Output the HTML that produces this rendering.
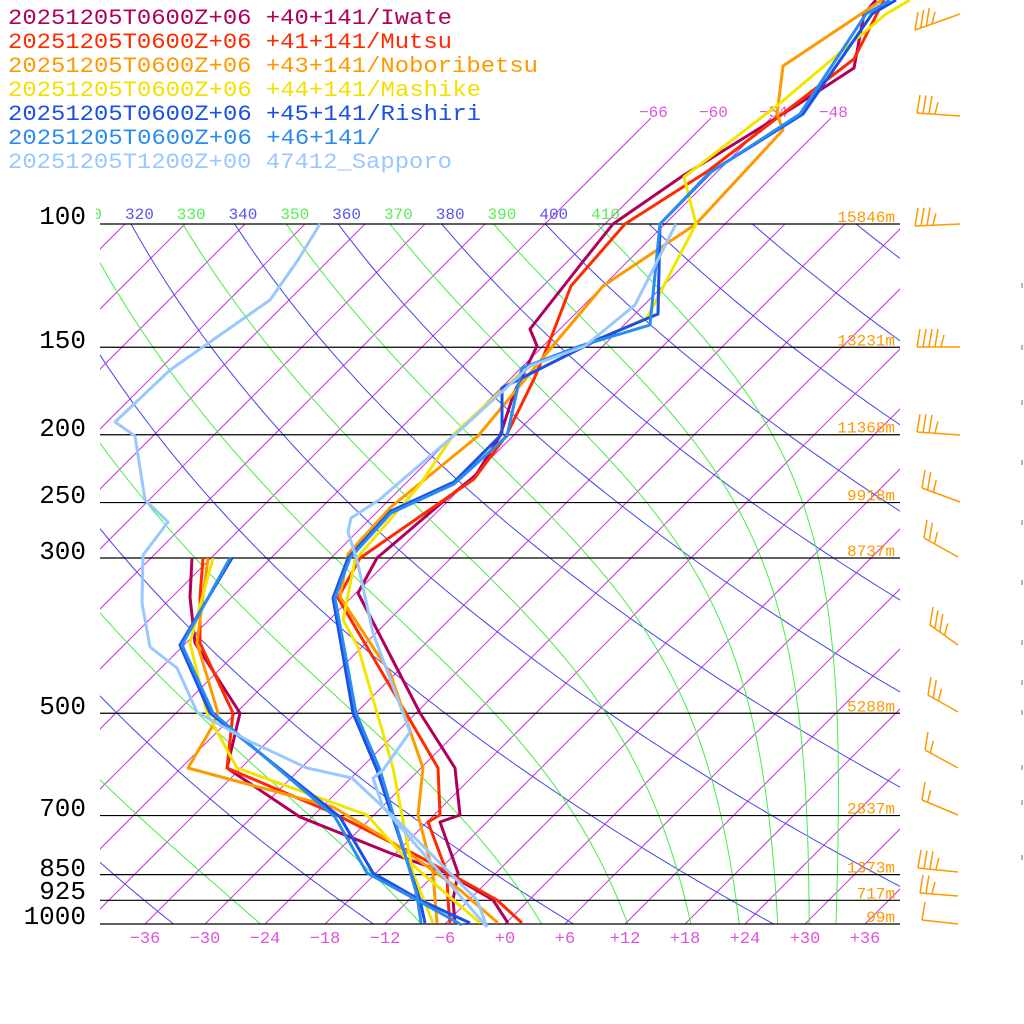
<!DOCTYPE html>
<html><head><meta charset="utf-8"><style>
html,body{margin:0;padding:0;background:#fff;width:1024px;height:1024px;overflow:hidden}
svg{display:block}
text{font-family:"Liberation Mono","DejaVu Sans Mono",monospace}
</style></head><body>
<svg id="s" width="1024" height="1024" viewBox="0 0 1024 1024" xmlns="http://www.w3.org/2000/svg">
<defs>
<clipPath id="pc"><rect x="100" y="224" width="800" height="700"/></clipPath>
<clipPath id="lc"><rect x="96" y="195" width="530" height="30"/></clipPath>
</defs>
<g id="grid" clip-path="url(#pc)"></g>
<g id="top"></g>
<g id="hl" stroke="#000" stroke-width="1.2"></g>
<g id="lab"></g>
<g id="ser" fill="none" stroke-width="3" stroke-linejoin="round"></g>
<g id="barb" fill="none" stroke="#ff9900" stroke-width="1.5"></g>
<g font-size="22">
<text x="8" y="24" fill="#b0005c" textLength="444" lengthAdjust="spacingAndGlyphs">20251205T0600Z+06 +40+141/Iwate</text>
<text x="8" y="48" fill="#ff2a00" textLength="444" lengthAdjust="spacingAndGlyphs">20251205T0600Z+06 +41+141/Mutsu</text>
<text x="8" y="72" fill="#ff9900" textLength="530" lengthAdjust="spacingAndGlyphs">20251205T0600Z+06 +43+141/Noboribetsu</text>
<text x="8" y="96" fill="#f2e000" textLength="473" lengthAdjust="spacingAndGlyphs">20251205T0600Z+06 +44+141/Mashike</text>
<text x="8" y="120" fill="#1a4fe8" textLength="473" lengthAdjust="spacingAndGlyphs">20251205T0600Z+06 +45+141/Rishiri</text>
<text x="8" y="144" fill="#2a8cf0" textLength="373" lengthAdjust="spacingAndGlyphs">20251205T0600Z+06 +46+141/</text>
<text x="8" y="168" fill="#99c8ff" textLength="444" lengthAdjust="spacingAndGlyphs">20251205T1200Z+00 47412_Sapporo</text>
</g>
</svg>
<script>
var NS="http://www.w3.org/2000/svg";
function el(p,t,a,txt){var e=document.createElementNS(NS,t);for(var k in a)e.setAttribute(k,a[k]);if(txt!==undefined)e.textContent=txt;document.getElementById(p).appendChild(e);return e;}
function Y(p){return 924-304*Math.log(1000/p);}
function X(T,y){return 505+10*T+(924-y);}
for(var T=-150;T<=60;T+=6){var y1=924,y2=224;el("grid","line",{x1:X(T,y1),y1:y1,x2:X(T,y2),y2:y2,stroke:"#cc33dd","stroke-width":1});}
[-66,-60,-54,-48].forEach(function(T){var y2=118;el("top","line",{x1:X(T,224),y1:224,x2:X(T,y2),y2:y2,stroke:"#cc33dd","stroke-width":1});
el("lab","text",{x:X(T,y2)-12,y:117,fill:"#dd55dd","font-size":16},(""+T).replace("-","−"));});
for(var th=200;th<=460;th+=20){var pts=[];for(var p=1000;p>=99;p-=5){var y=Y(p);var Tc=th*Math.pow(p/1000,0.2857)-273.15;pts.push(X(Tc,y).toFixed(1)+","+y.toFixed(1));}
el("grid","polyline",{points:pts.join(" "),fill:"none",stroke:"#4444ee","stroke-width":1});
var xl=X(th*Math.pow(0.1,0.2857)-273.15,224);el("lab","text",{x:xl-6,y:219,fill:"#5555ee","font-size":16,"clip-path":"url(#lc)"},""+th);}
function es(Tc){return 6.112*Math.exp(17.67*Tc/(Tc+243.5));}
for(var th=210;th<=410;th+=20){var Tk=th*Math.pow(0.1,0.2857);var pts=[];var lp=Math.log(100);var N=600;var d=(Math.log(1000)-lp)/N;
for(var i=0;i<=N;i++){var p=Math.exp(lp);var y=Y(p);pts.push(X(Tk-273.15,y).toFixed(1)+","+y.toFixed(1));
var e=es(Tk-273.15);var rs=0.622*e/(p-e);var dT=(287*Tk+2.5e6*rs)/(1004+2.5e6*2.5e6*rs*0.622/(287*Tk*Tk));Tk+=dT*d;lp+=d;}
el("grid","polyline",{points:pts.join(" "),fill:"none",stroke:"#44ee44","stroke-width":1});
var xl=X(th*Math.pow(0.1,0.2857)-273.15,224);el("lab","text",{x:xl-6,y:219,fill:"#55ee55","font-size":16,"clip-path":"url(#lc)"},""+th);}
var lv=[[100,224,"15846m"],[150,348,"13231m"],[200,436,"11368m"],[250,503,"9918m"],[300,559,"8737m"],[500,714,"5288m"],[700,816,"2837m"],[850,876,"1373m"],[925,899,"717m"],[1000,924,"99m"]];
lv.forEach(function(l){var y=Y(l[0]);el("hl","line",{x1:100,y1:y,x2:900,y2:y});
el("lab","text",{x:86,y:l[1],"text-anchor":"end","font-size":26,fill:"#000"},""+l[0]);
el("lab","text",{x:895,y:y-2,"text-anchor":"end","font-size":16,fill:"#ff9900"},l[2]);});
for(var T=-36;T<=36;T+=6){var s=T<0?"−"+(-T):"+"+T;el("lab","text",{x:505+10*T,y:943,"text-anchor":"middle","font-size":17,fill:"#dd55dd"},s);}
var S=[
["#b0005c",[[876,0],[864,14],[854,68],[794,107],[684,175],[613,224],[581,264],[530,329],[537,346],[514,393],[500,436],[476,475],[445,500],[377,558],[358,593],[420,713],[455,768],[460,815],[440,822],[458,873],[453,900],[455,923]]],
["#b0005c",[[192,558],[190,597],[195,643],[240,713],[227,768],[300,817],[390,853],[447,873],[493,900],[508,923]]],
["#ff2a00",[[884,0],[854,59],[708,171],[625,224],[571,286],[549,343],[534,379],[506,436],[474,479],[360,558],[338,598],[367,647],[410,720],[438,768],[440,815],[428,822],[447,873],[448,900],[450,923]]],
["#ff2a00",[[203,558],[200,597],[200,643],[233,713],[227,768],[333,813],[420,857],[497,900],[522,923]]],
["#ff9900",[[882,0],[783,66],[777,114],[783,130],[696,224],[603,286],[546,354],[478,436],[391,507],[348,554],[340,597],[390,673],[423,768],[418,815],[433,873],[437,923]]],
["#ff9900",[[208,558],[197,643],[218,713],[212,727],[188,768],[333,807],[400,847],[460,890],[498,923]]],
["#f2e600",[[910,0],[886,14],[779,104],[684,177],[696,224],[647,318],[601,338],[526,368],[454,434],[419,486],[355,560],[343,620],[358,647],[393,768],[413,873],[433,923]]],
["#f2e600",[[213,558],[190,643],[207,713],[237,768],[367,815],[407,860],[480,923]]],
["#1a4fe8",[[896,0],[872,14],[803,114],[712,171],[660,224],[658,314],[601,338],[502,388],[502,434],[454,482],[391,511],[348,558],[333,598],[353,713],[377,770],[420,900],[425,923]]],
["#1a4fe8",[[232,558],[180,645],[210,713],[340,817],[373,873],[420,900],[470,923]]],
["#2a8cf0",[[890,0],[866,14],[800,114],[708,174],[660,224],[650,325],[580,346],[522,368],[507,436],[454,484],[391,513],[350,558],[335,598],[356,713],[380,770],[417,895],[421,923]]],
["#2a8cf0",[[230,558],[182,645],[213,713],[335,817],[367,873],[417,900],[462,925]]],
["#99c8ff",[[676,224],[635,305],[585,346],[530,366],[458,432],[379,500],[351,518],[348,532],[357,560],[373,633],[410,732],[383,770],[373,778],[383,807],[487,927]]],
["#99c8ff",[[320,224],[298,260],[270,300],[170,370],[115,422],[135,436],[145,500],[168,522],[143,555],[142,603],[150,647],[177,668],[197,712],[247,740],[307,768],[352,778],[400,823],[477,900],[487,927]]]
];
S.forEach(function(s){el("ser","polyline",{points:s[1].map(function(p){return p.join(",")}).join(" "),stroke:s[0]});});
function barb(x0,y0,x1,y1,n){el("barb","line",{x1:x0,y1:y0,x2:x1,y2:y1});var L=Math.hypot(x1-x0,y1-y0);var ux=(x0-x1)/L,uy=(y0-y1)/L;
for(var i=0;i<n;i++){var bx=x1+ux*6*i,by=y1+uy*6*i;var l=(i==n-1&&n>1)?12:18;el("barb","line",{x1:bx,y1:by,x2:bx+3,y2:by-l});}}
barb(960,14,915,30,4);barb(960,116,917,113,4);barb(960,224,915,226,4);barb(960,347,917,347,5);barb(960,435,917,432,4);
barb(960,502,922,488,3);barb(958,557,924,538,3);barb(958,645,930,625,4);barb(958,712,928,695,3);barb(958,768,925,750,2);
barb(958,815,922,800,2);barb(958,872,918,868,4);barb(958,896,920,893,3);barb(958,924,922,920,1);
[283,345,400,460,520,580,640,680,710,765,800,855].forEach(function(y){el("barb","line",{x1:1022,y1:y,x2:1022,y2:y+5,stroke:"#6666aa","stroke-width":1});});
</script>
</body></html>
